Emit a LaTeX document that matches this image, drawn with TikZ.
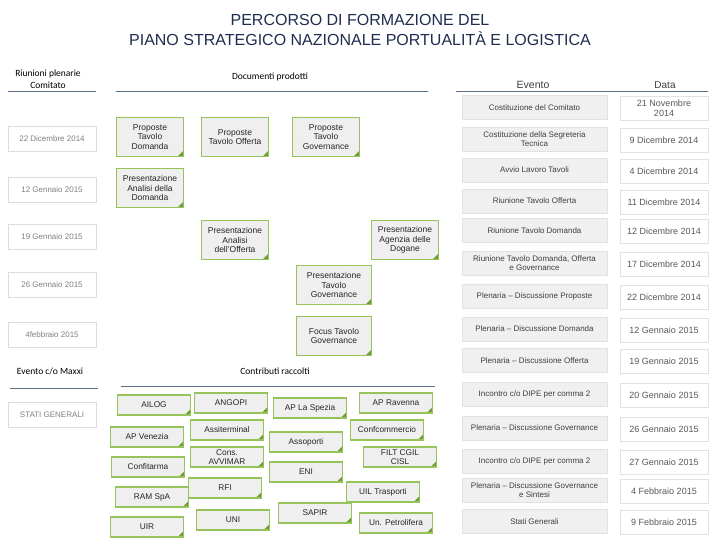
\documentclass[tikz,border=0pt]{standalone}
\usepackage{fontspec}
\setmainfont{Liberation Sans}
\newfontfamily\headfont{Carlito}
\usetikzlibrary{positioning}
\definecolor{titlecol}{HTML}{1F2D4E}
\definecolor{rulecol}{HTML}{5B6F8A}
\definecolor{notegreen}{HTML}{96C45A}
\definecolor{foldgreen}{HTML}{6E9E35}
\definecolor{notefill}{HTML}{EFEFEF}
\definecolor{evfill}{HTML}{F0F0F0}
\definecolor{evline}{HTML}{E2E2E2}
\definecolor{dayline}{HTML}{DCDCDC}
\definecolor{evtext}{HTML}{3F3F3F}
\definecolor{datetext}{HTML}{595959}
\definecolor{daytext}{HTML}{808080}
\tikzset{
  note/.style={draw=notegreen, fill=notefill, line width=1.5pt, align=center,
               inner sep=1pt, minimum width=67pt, minimum height=39pt, text=black!85,
               font=\fontsize{8.5}{9.5}\selectfont,
               path picture={\fill[foldgreen] (path picture bounding box.south east)
                 -- ++(-6pt,0) -- ++(6pt,6pt) -- cycle;}},
  contrib/.style={note, minimum width=73pt, minimum height=20pt,
                  font=\fontsize{8.3}{8.8}\selectfont},
  evbox/.style={draw=evline, fill=evfill, line width=0.6pt, align=center, inner sep=1pt,
                minimum width=145pt, minimum height=24pt, text=evtext,
                font=\fontsize{8}{9}\selectfont},
  datebox/.style={draw=evline, fill=white, line width=0.6pt, align=center, inner sep=1pt,
                  minimum width=88pt, minimum height=24pt, text=datetext,
                  font=\fontsize{9}{10}\selectfont},
  daybox/.style={draw=dayline, fill=white, line width=0.8pt, inner sep=1pt,
                 minimum width=88pt, minimum height=25pt, text=daytext,
                 font=\fontsize{8}{9}\selectfont},
  hdr/.style={align=center, font=\headfont\fontsize{9.5}{12}\selectfont},
  rule/.style={draw=rulecol, line width=1pt}
}

\begin{document}
\begin{tikzpicture}[x=1pt,y=-1pt]
  \fill[white] (0,0) rectangle (720,540);

  % title
  \node[align=center, text=titlecol, font=\fontsize{16}{20}\selectfont] (title) at (360,30)
    {PERCORSO DI FORMAZIONE DEL\\PIANO STRATEGICO NAZIONALE PORTUALITÀ E LOGISTICA};

  % column headers
  \node[hdr] (hplen) at (48,79) {Riunioni plenarie\\Comitato};
  \node[hdr] (hdoc) at (270,77) {Documenti prodotti};
  \node[font=\fontsize{10.5}{12}\selectfont, text=evtext] (hev) at (533,85) {Evento};
  \node[font=\fontsize{10}{12}\selectfont, text=evtext] (hdata) at (665,85) {Data};
  \draw[rule] (8,92) -- (96,92);
  \draw[rule] (116,92) -- (428,92);
  \draw[rule] (456,92) -- (708,92);

  % plenarie
  \foreach \i/\y/\d in {1/139/22 Dicembre 2014,2/190/12 Gennaio 2015,3/237/19 Gennaio 2015,
                        4/285/26 Gennaio 2015,5/335/4febbraio 2015} {
    \node[daybox] (day\i) at (52,\y) {\d};
  }

  % documenti prodotti
  \node[note] (propdom) at (150,137) {Proposte\\Tavolo\\Domanda};
  \node[note] (propoff) at (235,137) {Proposte\\Tavolo Offerta};
  \node[note] (propgov) at (326,137) {Proposte\\Tavolo\\Governance};
  \node[note] (presdom) at (150,188) {Presentazione\\Analisi della\\Domanda};
  \node[note] (presoff) at (235,240) {Presentazione\\Analisi\\dell’Offerta};
  \node[note] (presdog) at (405,240) {Presentazione\\Agenzia delle\\Dogane};
  \node[note, minimum width=75pt] (presgov) at (334,285) {Presentazione\\Tavolo\\Governance};
  \node[note, minimum width=75pt] (focgov) at (334,336) {Focus Tavolo\\Governance};

  % evento / data
  \foreach \i/\y/\ev/\dt in {
      1/107.5/Costituzione del Comitato/{21 Novembre\\2014},
      2/139/{Costituzione della Segreteria\\Tecnica}/9 Dicembre 2014,
      3/170/Avvio Lavoro Tavoli/4 Dicembre 2014,
      4/201/Riunione Tavolo Offerta/11 Dicembre 2014,
      5/230.5/Riunione Tavolo Domanda/12 Dicembre 2014,
      6/263.5/{Riunione Tavolo Domanda, Offerta\\e Governance}/17 Dicembre 2014,
      7/296/Plenaria – Discussione Proposte/22 Dicembre 2014,
      8/329/Plenaria – Discussione Domanda/12 Gennaio 2015,
      9/360.5/Plenaria – Discussione Offerta/19 Gennaio 2015,
      10/394/{Incontro c/o DIPE per comma 2}/20 Gennaio 2015,
      11/428/Plenaria – Discussione Governance/26 Gennaio 2015,
      12/461/{Incontro c/o DIPE per comma 2}/27 Gennaio 2015,
      13/490/{Plenaria – Discussione Governance\\e Sintesi}/4 Febbraio 2015,
      14/521.5/Stati Generali/9 Febbraio 2015} {
    \node[evbox] (ev\i) at (534.5,\y) {\ev};
    \node[datebox] (dt\i) at (664,\y+1) {\dt};
  }

  % evento c/o Maxxi
  \node[hdr] (hmaxxi) at (50,371) {Evento c/o Maxxi};
  \node[hdr] (hcontr) at (275,371) {Contributi raccolti};
  \draw[rule] (10,388) -- (98,388);
  \draw[rule] (121,386) -- (435,386);
  \node[daybox] (stati) at (52,415) {STATI GENERALI};

  % contributi raccolti
  \foreach \i/\x/\y/\t in {1/154/405/AILOG,2/231/403/ANGOPI,3/310/408/AP La Spezia,
      4/396/403/AP Ravenna,5/147/437/AP Venezia,6/227/430/Assiterminal,
      7/306/442/Assoporti,8/387/430/Confcommercio,9/148/467/Confitarma,
      10/227/457/{Cons.\\AVVIMAR},11/306/472/ENI,12/400/457/{FILT CGIL\\CISL},
      13/152/497/RAM SpA,14/225/488/RFI,15/383/492/UIL Trasporti,
      16/315/513/SAPIR,17/147/527/UIR,18/233/520/UNI,19/396/523/Un. Petrolifera} {
    \node[contrib] (c\i) at (\x,\y) {\t};
  }
\end{tikzpicture}
\end{document}
